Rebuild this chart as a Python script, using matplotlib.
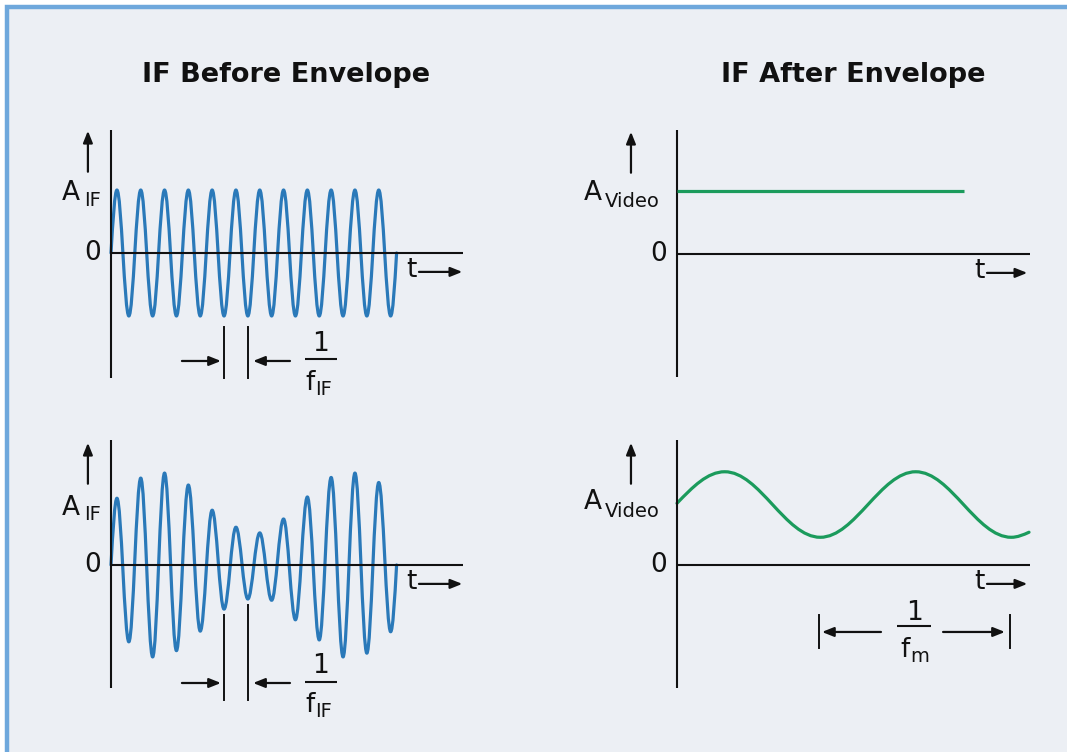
import numpy as np
import matplotlib
matplotlib.use("Agg")
import matplotlib.pyplot as plt
from matplotlib.path import Path
from matplotlib.patches import PathPatch, Rectangle

# ---------------- data ----------------
titles = ["IF Before Envelope", "IF After Envelope"]

# IF carrier: number of cycles drawn and (constant) amplitude, units of A_IF
if_cycles = 12
if_amplitude = 1.0

# Amplitude-modulated IF: magnitude of each positive peak and negative trough
am_peaks = [1.06, 1.38, 1.46, 1.27, 0.87, 0.60, 0.51, 0.73, 1.08, 1.39, 1.46, 1.31]
am_troughs = [1.22, 1.46, 1.36, 1.05, 0.70, 0.54, 0.56, 0.87, 1.19, 1.46, 1.40, 1.06]

# Video after envelope detection (time in modulation periods)
video_level = 1.0
video_level_end = 1.50
video_t = [0.0, 0.25, 0.75, 1.25, 1.75, 1.843]
video_y = [0.98, 1.48, 0.44, 1.48, 0.44, 0.52]

# ---------------- style ----------------
W, H = 1067, 752
BLUE = "#2a79b9"
GREEN = "#1b9b5c"
INK = "#111111"
FONT = "DejaVu Sans"
plt.rcParams["font.family"] = [FONT]

fig = plt.figure(figsize=(W / 100, H / 100), dpi=100, facecolor="white")
bg = Rectangle((7 / W, -0.2), 1.3, 1 - 7 / H + 0.2, transform=fig.transFigure,
               facecolor="#eceff4", edgecolor="#6fa8dc", linewidth=3.2, zorder=-5)
fig.add_artist(bg)


def panel(left, right, top, bottom, x0px, zero_px, px_per_x, px_per_y):
    ax = fig.add_axes([left / W, 1 - bottom / H, (right - left) / W, (bottom - top) / H])
    ax.set_xlim((left - x0px) / px_per_x, (right - x0px) / px_per_x)
    ax.set_ylim(-(bottom - zero_px) / px_per_y, (zero_px - top) / px_per_y)
    ax.axis("off")
    ax.patch.set_alpha(0)
    ax.axvline(0, color=INK, lw=1.5, clip_on=False, solid_capstyle="butt")
    ax.axhline(0, color=INK, lw=1.5, clip_on=False, solid_capstyle="butt")
    return ax


def bezier_wave(ax, tk, yk, color, free_start=True, free_end=True, lw=2.3):
    verts = [(tk[0], yk[0])]
    codes = [Path.MOVETO]
    n = len(tk) - 1
    for i in range(n):
        t0, t1, y0, y1 = tk[i], tk[i + 1], yk[i], yk[i + 1]
        d, dy = t1 - t0, y1 - y0
        if i == 0 and free_start:
            c1 = (t0 + 0.33 * d, y0 + 0.52 * dy)
            c2 = (t0 + 0.64 * d, y1)
        elif i == n - 1 and free_end:
            c1 = (t0 + 0.36 * d, y0)
            c2 = (t0 + 0.67 * d, y0 + 0.48 * dy)
        else:
            c1 = (t0 + 0.364 * d, y0)
            c2 = (t1 - 0.364 * d, y1)
        verts += [c1, c2, (t1, y1)]
        codes += [Path.CURVE4] * 3
    ax.add_patch(PathPatch(Path(verts, codes), fill=False, edgecolor=color, lw=lw,
                           capstyle="round", joinstyle="round", clip_on=False))


def arrow(ax, x0, y0, x1, y1, lw=1.6):
    ax.annotate("", xy=(x1, y1), xytext=(x0, y0), annotation_clip=False,
                arrowprops=dict(arrowstyle="-|>,head_length=0.7,head_width=0.28",
                                color=INK, lw=lw, shrinkA=0, shrinkB=0))


def sub_text(ax, xm, ym, main, xs, ys, sub, size_main=19, size_sub=14):
    ax.text(xm, ym, main, ha="left", va="baseline", fontsize=size_main, color=INK)
    ax.text(xs, ys, sub, ha="left", va="baseline", fontsize=size_sub, color=INK)


def axis_marks(ax, x_arrow, zero_x, t_x, t_arrow):
    ax.text(zero_x, 0, "0", ha="center", va="center", fontsize=19, color=INK)
    arrow(ax, x_arrow, 1.29, x_arrow, 1.94)
    ax.text(t_x, -0.27, "t", ha="center", va="center", fontsize=19, color=INK)
    arrow(ax, t_arrow[0], -0.30, t_arrow[1], -0.30)


def fraction(ax, xc, y_one, y_bar, bar_half):
    ax.text(xc, y_one, "1", ha="center", va="center", fontsize=19, color=INK)
    ax.plot([xc - bar_half, xc + bar_half], [y_bar, y_bar], color=INK, lw=1.5,
            clip_on=False, solid_capstyle="butt")


# carrier extrema from data
def carrier_points(peaks, troughs):
    tk, yk = [0.0], [0.0]
    for k in range(if_cycles):
        tk += [k + 0.25, k + 0.75]
        yk += [peaks[k], -troughs[k]]
    tk.append(float(if_cycles))
    yk.append(0.0)
    return tk, yk


PXC = 23.8   # px per carrier cycle
PXM = 191.0  # px per modulation period
PXA = 63.0   # px per amplitude unit

# ---- top-left ----
ax1 = panel(111, 463, 130, 378, 111, 253, PXC, PXA)
tk, yk = carrier_points([if_amplitude] * if_cycles, [if_amplitude] * if_cycles)
bezier_wave(ax1, tk, yk, BLUE)
axis_marks(ax1, -0.97, -0.76, 12.62, (12.94, 14.76))
sub_text(ax1, -2.06, 0.841, "A", -1.13, 0.746, "IF")
for tm in (4.75, 5.75):
    ax1.plot([tm, tm], [-if_amplitude - 0.17, ax1.get_ylim()[0]], color=INK, lw=1.4,
             clip_on=False)
arrow(ax1, 2.98, -1.714, 4.62, -1.714)
arrow(ax1, 7.52, -1.714, 5.97, -1.714)
fraction(ax1, 8.82, -1.444, -1.683, 0.67)
sub_text(ax1, 8.15, -2.175, "f", 8.57, -2.254, "IF")

# ---- bottom-left ----
ax3 = panel(111, 463, 440, 688, 111, 565, PXC, PXA)
tk, yk = carrier_points(am_peaks, am_troughs)
bezier_wave(ax3, tk, yk, BLUE)
axis_marks(ax3, -0.97, -0.76, 12.62, (12.94, 14.76))
sub_text(ax3, -2.06, 0.794, "A", -1.13, 0.714, "IF")
for k, tm in ((4, 4.75), (5, 5.75)):
    ax3.plot([tm, tm], [-am_troughs[k] - 0.09, -2.14], color=INK, lw=1.4, clip_on=False)
arrow(ax3, 2.98, -1.873, 4.62, -1.873)
arrow(ax3, 7.52, -1.873, 5.97, -1.873)
fraction(ax3, 8.82, -1.603, -1.857, 0.67)
sub_text(ax3, 8.15, -2.333, "f", 8.57, -2.413, "IF")

# ---- top-right ----
ax2 = panel(677, 1030, 130, 377, 677, 254, PXM, PXA)
ax2.plot([0, video_level_end], [video_level, video_level], color=GREEN, lw=2.3,
         solid_capstyle="butt", clip_on=False)
axis_marks(ax2, -0.241, -0.094, 1.581, (1.623, 1.834))
sub_text(ax2, -0.487, 0.857, "A", -0.377, 0.746, "Video")

# ---- bottom-right ----
ax4 = panel(677, 1030, 440, 688, 677, 565, PXM, PXA)
bezier_wave(ax4, video_t, video_y, GREEN)
axis_marks(ax4, -0.241, -0.094, 1.581, (1.623, 1.834))
sub_text(ax4, -0.487, 0.889, "A", -0.377, 0.762, "Video")
for tm in (video_t[2], video_t[4]):
    ax4.plot([tm - 0.009, tm - 0.009], [-0.794, -1.317], color=INK, lw=1.4, clip_on=False)
arrow(ax4, 1.068, -1.063, 0.759, -1.063)
arrow(ax4, 1.393, -1.063, 1.717, -1.063)
fraction(ax4, 1.241, -0.762, -0.968, 0.087)
sub_text(ax4, 1.168, -1.460, "f", 1.22, -1.540, "m")

# ---- titles ----
fig.text(286 / W, 1 - 75 / H, titles[0], ha="center", va="center", fontsize=19.5,
         fontweight="bold", color=INK)
fig.text(853 / W, 1 - 75 / H, titles[1], ha="center", va="center", fontsize=19.5,
         fontweight="bold", color=INK)

fig.savefig("out.png", dpi=100, facecolor=fig.get_facecolor())
